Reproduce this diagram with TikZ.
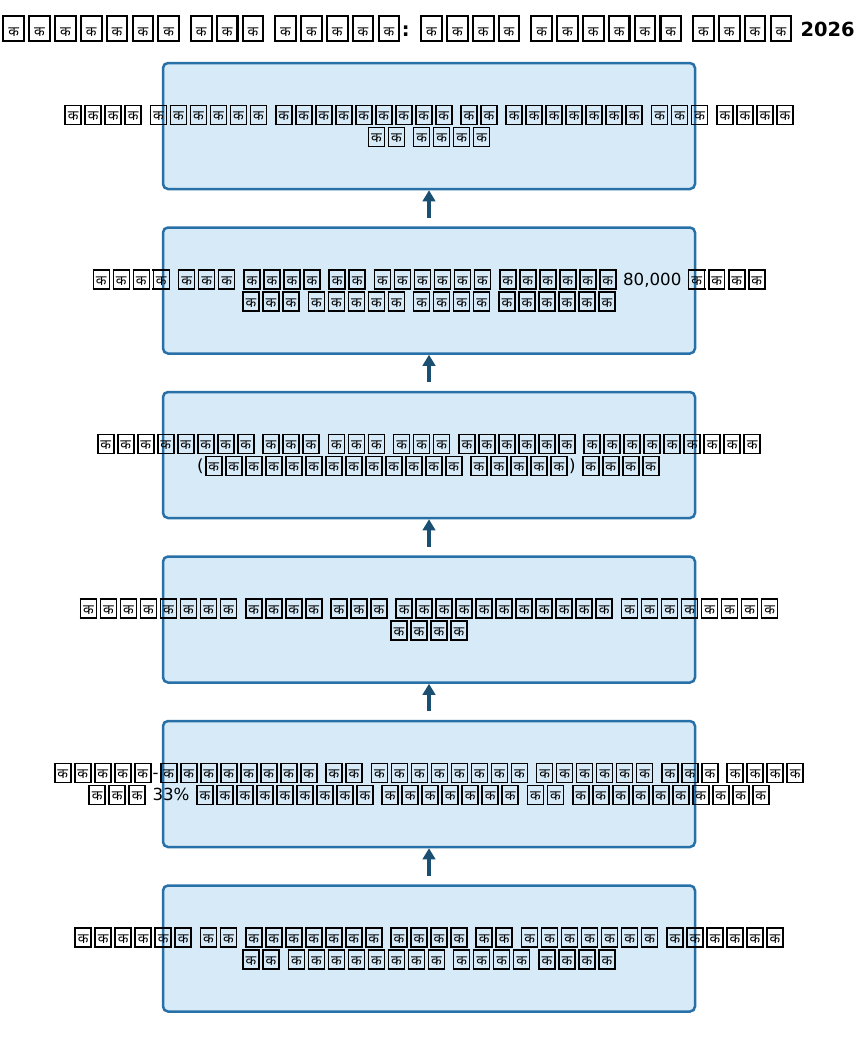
\documentclass[tikz,border=0pt]{standalone}
\usepackage{fontspec}
\setmainfont{DejaVu Sans}
\newfontfamily\devafont[Script=Devanagari]{Noto Sans}
\usepackage{tikz}
\usetikzlibrary{positioning,arrows.meta}
\usepackage{xcolor}
\definecolor{boxfill}{RGB}{214,234,248}
\definecolor{boxedge}{RGB}{40,112,168}
\definecolor{flowcol}{RGB}{27,79,114}
\newdimen\pxu \pxu=0.72pt
\newdimen\tfu \tfu=0.72pt
% one boxed glyph, and a run of them
\newcommand{\tofu}{\kern1.2\tfu{\fboxsep=0pt\fboxrule=1.6\tfu\fbox{\vrule width0pt height14.7\tfu depth3\tfu\makebox[14.4\tfu]{\devafont\fontsize{10}{10}\selectfont क}}}\kern1.2\tfu}
\newcommand{\tofus}[1]{\foreach \k in {1,...,#1}{\tofu}}
\tikzset{
  stepbox/.style={
    draw=boxedge,
    fill=boxfill,
    rectangle,
    rounded corners=5\pxu,
    minimum width=532\pxu,
    minimum height=126\pxu,
    line width=1.8pt,
  },
  steptext/.style={
    align=center,
    inner sep=0pt,
    font=\fontsize{12}{15.84}\selectfont,
  },
  titletext/.style={
    inner sep=0pt,
    font={\tfu=0.93pt\bfseries\fontsize{14}{17}\selectfont},
  },
  flow/.style={draw=flowcol, line width=2.2pt, -{Triangle[length=8pt,width=9pt]}},
}
\begin{document}
\begin{tikzpicture}[x=0.72pt,y=-0.72pt]
  \useasboundingbox (0,0) rectangle (858,1053);
  \node[titletext, anchor=base east] (title) at (855,36)
    {\tofus{1} \tofus{7} \tofus{3} \tofus{5}: \tofus{4} \tofus{6} \tofus{4} 2026};
  \node[stepbox] (s1) at (429,126) {};
  \node[stepbox] (s2) at (429,290.5) {};
  \node[stepbox] (s3) at (429,455) {};
  \node[stepbox] (s4) at (429,619.5) {};
  \node[stepbox] (s5) at (429,784) {};
  \node[stepbox] (s6) at (429,948.5) {};
  \node[steptext] (t1) at (s1.center)
    {\tofus{4} \tofus{6} \tofus{9} \tofus{2} \tofus{7} \tofus{3} \tofus{4}\\
     \tofus{2} \tofus{4}};
  \node[steptext] (t2) at (s2.center)
    {\tofus{4} \tofus{3} \tofus{4} \tofus{2} \tofus{6} \tofus{6} 80,000 \tofus{4}\\
     \tofus{3} \tofus{5} \tofus{4} \tofus{6}};
  \node[steptext] (t3) at (s3.center)
    {\tofus{8} \tofus{3} \tofus{3} \tofus{3} \tofus{6} \tofus{9}\\
     (\tofus{13} \tofus{5}) \tofus{4}};
  \node[steptext] (t4) at (s4.center)
    {\tofus{8} \tofus{4} \tofus{3} \tofus{11} \tofus{8}\\
     \tofus{4}};
  \node[steptext] (t5) at (s5.center)
    {\tofus{5}-\tofus{8} \tofus{2} \tofus{8} \tofus{6} \tofus{3} \tofus{4}\\
     \tofus{3} 33\% \tofus{9} \tofus{7} \tofus{2} \tofus{10}};
  \node[steptext] (t6) at (s6.center)
    {\tofus{6} \tofus{2} \tofus{7} \tofus{4} \tofus{2} \tofus{7} \tofus{6}\\
     \tofus{2} \tofus{8} \tofus{4} \tofus{4}};
  \draw[flow] ([yshift=6pt]s2.north) -- (s1.south);
  \draw[flow] ([yshift=6pt]s3.north) -- (s2.south);
  \draw[flow] ([yshift=6pt]s4.north) -- (s3.south);
  \draw[flow] ([yshift=6pt]s5.north) -- (s4.south);
  \draw[flow] ([yshift=6pt]s6.north) -- (s5.south);
\end{tikzpicture}
\end{document}
